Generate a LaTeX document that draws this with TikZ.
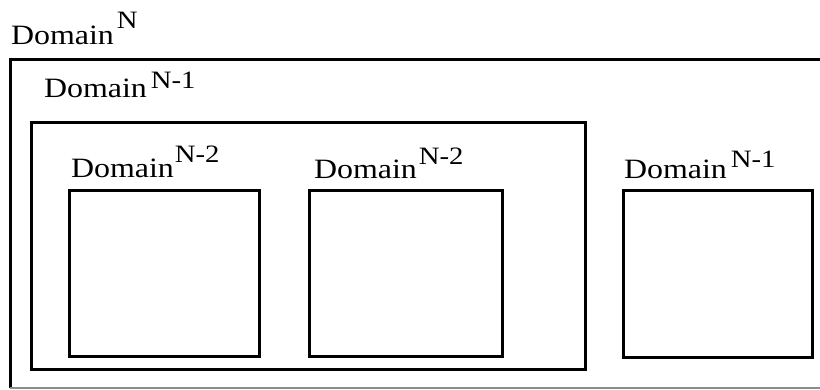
\documentclass[tikz,border=0pt]{standalone}
\usepackage{fontspec}
\setmainfont{Liberation Serif}
\newcommand{\mainlbl}[1]{\fontsize{28}{34}\selectfont\scalebox{1.14}[1]{#1}}
\newcommand{\suplbl}[1]{\fontsize{25}{30}\selectfont\scalebox{1.15}[1]{#1}}
\newcommand{\dlabel}[3]{\mainlbl{Domain}\hspace{#3}\raisebox{#1}{\suplbl{#2}}}
\tikzset{
  box/.style={draw=black, line width=3pt},
  lbl/.style={anchor=base west, inner sep=0pt, outer sep=0pt},
}
\begin{document}
\begin{tikzpicture}[x=1pt,y=-1pt]
\useasboundingbox (0,0) rectangle (820,389);
\clip (0,0) rectangle (820,389);
% outer domain N
\draw[box] (840,59) -- (10,59) -- (10,388);
\draw[draw=black!45, line width=2pt] (10,388) -- (840,388);
% domain N-1 (left)
\draw[box] (31,122) rectangle (585,369);
% domain N-2 boxes
\draw[box] (69,190) rectangle (259,356);
\draw[box] (309,190) rectangle (502,356);
% domain N-1 (right)
\draw[box] (623,190) rectangle (812,357);
% labels
\node[lbl] (l0) at (11,44) {\dlabel{16pt}{N}{3pt}};
\node[lbl] (l1) at (44,97) {\dlabel{9pt}{N-1}{4pt}};
\node[lbl] (l2) at (71,177) {\dlabel{15pt}{N-2}{1pt}};
\node[lbl] (l3) at (314,178) {\dlabel{14pt}{N-2}{2pt}};
\node[lbl] (l4) at (624,178) {\dlabel{11pt}{N-1}{4pt}};
\end{tikzpicture}
\end{document}
